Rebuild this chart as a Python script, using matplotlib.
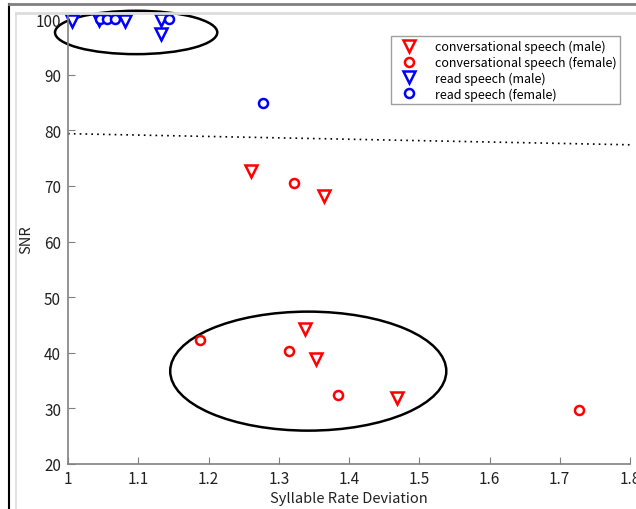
import matplotlib
matplotlib.use('Agg')
import matplotlib.pyplot as plt
from matplotlib.patches import Ellipse
from matplotlib.lines import Line2D

plt.rcParams['font.family'] = ['Noto Sans CJK KR', 'DejaVu Sans']

# data
conv_male_x = [1.260, 1.365, 1.337, 1.353, 1.468]
conv_male_y = [72.7, 68.2, 44.3, 38.8, 31.8]
conv_female_x = [1.321, 1.188, 1.315, 1.384, 1.727]
conv_female_y = [70.6, 42.3, 40.3, 32.4, 29.7]
read_male_x = [1.006, 1.044, 1.081, 1.132, 1.132]
read_male_y = [99.7, 99.8, 99.7, 99.8, 97.4]
read_female_x = [1.046, 1.055, 1.067, 1.144, 1.278]
read_female_y = [100, 100, 100, 100, 84.9]

thresh_x = [1.0, 1.8]
thresh_y = [79.4, 77.4]

fig = plt.figure(figsize=(6.36, 5.1), dpi=100)
ax = fig.add_axes([68/636, 1 - 465/510, (630 - 68)/636, (465 - 14)/510])

mk = dict(linestyle='none', markerfacecolor='white', markeredgewidth=1.8)
ax.plot(conv_male_x, conv_male_y, marker='v', markersize=8, color='red',
        markeredgecolor='red', label='conversational speech (male)', **mk)
ax.plot(conv_female_x, conv_female_y, marker='o', markersize=6.5, color='red',
        markeredgecolor='red', label='conversational speech (female)', **mk)
ax.plot(read_male_x, read_male_y, marker='v', markersize=8, color='blue',
        markeredgecolor='blue', label='read speech (male)', clip_on=False, **mk)
ax.plot(read_female_x, read_female_y, marker='o', markersize=6.5, color='blue',
        markeredgecolor='blue', label='read speech (female)', clip_on=False, **mk)

ax.plot(thresh_x, thresh_y, color='black', linestyle=(0, (1, 2.5)), linewidth=1.2)

# circled groups
ax.add_patch(Ellipse((1.097, 97.6), 0.231, 7.8, fill=False, edgecolor='black',
                     linewidth=1.8, clip_on=False))
ax.add_patch(Ellipse((1.342, 36.7), 0.393, 21.4, fill=False, edgecolor='black',
                     linewidth=1.8, clip_on=False))

ax.set_xlim(1.0, 1.8)
ax.set_ylim(20, 101.1)
ax.set_xticks([1, 1.1, 1.2, 1.3, 1.4, 1.5, 1.6, 1.7, 1.8])
ax.set_xticklabels(['1', '1.1', '1.2', '1.3', '1.4', '1.5', '1.6', '1.7', '1.8'])
ax.set_yticks(range(20, 101, 10))

for s in ['top', 'right']:
    ax.spines[s].set_visible(False)
for s in ['left', 'bottom']:
    ax.spines[s].set_color('#808080')
    ax.spines[s].set_linewidth(1.2)
ax.tick_params(direction='in', length=5, color='#808080', labelsize=11,
               labelcolor='#222222')
ax.tick_params(axis='x', pad=4)
ax.tick_params(axis='y', pad=5)

ax.set_xlabel('Syllable Rate Deviation', fontsize=10.5, color='#222222', labelpad=3)
ax.set_ylabel('SNR', fontsize=10.5, color='#222222', labelpad=2)

leg = ax.legend(loc='upper left', bbox_to_anchor=(385/636, 1 - 31/510),
                bbox_transform=fig.transFigure, fontsize=9, frameon=True,
                fancybox=False, edgecolor='#888888', borderpad=0.3,
                labelspacing=0.2, handlelength=2.2, handletextpad=1.0)
leg.get_frame().set_linewidth(1.0)

# screenshot frame
fig.add_artist(Line2D([9/636, 9/636], [0, 1 - 5/510], color='black', linewidth=1.5))
fig.add_artist(Line2D([9/636, 1], [1 - 5/510, 1 - 5/510], color='#808080', linewidth=2))
fig.add_artist(Line2D([16/636, 1], [1 - 14/510, 1 - 14/510], color='#dddddd', linewidth=2))
fig.add_artist(Line2D([16/636, 16/636], [0, 1 - 14/510], color='#dddddd', linewidth=1.2))

fig.savefig('out.png', dpi=100)
